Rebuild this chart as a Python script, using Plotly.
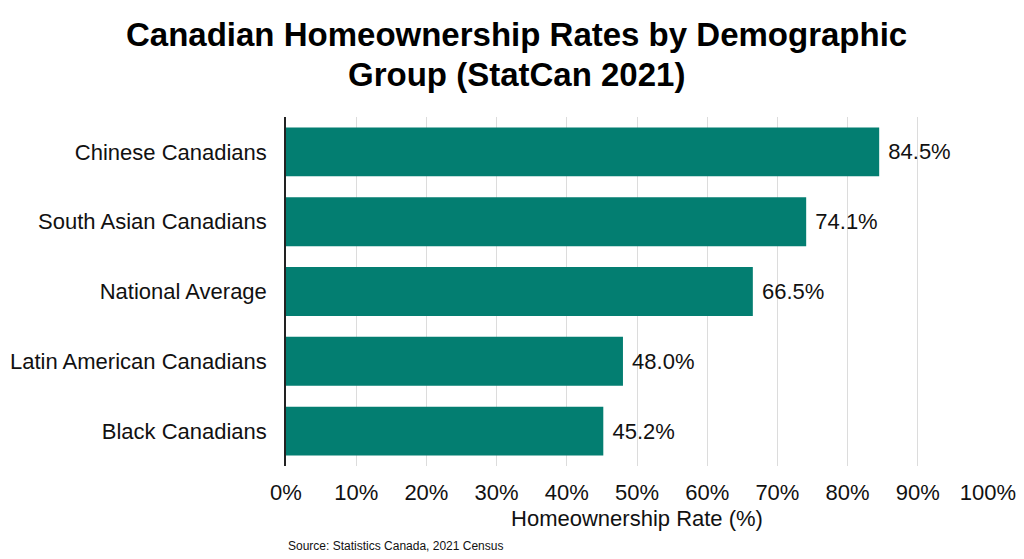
import plotly.graph_objects as go

categories = ["Chinese Canadians", "South Asian Canadians", "National Average",
              "Latin American Canadians", "Black Canadians"]
rates = [84.5, 74.1, 66.5, 48.0, 45.2]
tick_vals = [0, 10, 20, 30, 40, 50, 60, 70, 80, 90, 100]
tick_text = [f"{v}%" for v in tick_vals]
title_lines = ["Canadian Homeownership Rates by Demographic", "Group (StatCan 2021)"]

fig = go.Figure(go.Bar(
    x=rates, y=categories, orientation="h",
    marker=dict(color="#037E71", line=dict(width=0)),
    text=[f"\u00a0{v:.1f}%" for v in rates], textposition="outside",
    textfont=dict(size=22, color="#111111"), cliponaxis=False,
    width=0.7,
))

# page body has an 8px margin, so the figure is laid out 8px smaller
fig.update_layout(
    width=1016, height=551,
    paper_bgcolor="white", plot_bgcolor="white",
    font=dict(family="Liberation Sans, Arial, sans-serif", color="#111111"),
    margin=dict(l=278, r=36, t=109, b=93, autoexpand=False),
    showlegend=False,
    xaxis=dict(range=[0, 100], tickvals=tick_vals, ticktext=tick_text,
               showgrid=True, gridcolor="#dcdcdc", gridwidth=1,
               zeroline=False, ticks="", ticklabelstandoff=11,
               tickfont=dict(size=22), automargin=False,
               title=dict(text="Homeownership Rate (%)", font=dict(size=22), standoff=6)),
    yaxis=dict(categoryorder="array", categoryarray=categories[::-1],
               showline=True, linecolor="#222222", linewidth=1.5,
               ticks="", tickfont=dict(size=22), ticklabelstandoff=13, automargin=False),
    annotations=[
        dict(text=f"<b>{title_lines[0]}</b>", xref="paper", yref="paper",
             x=(508 - 278) / 702, y=1.0, xanchor="center", yanchor="middle",
             yshift=83, showarrow=False, font=dict(size=33, color="#000000")),
        dict(text=f"<b>{title_lines[1]}</b>", xref="paper", yref="paper",
             x=(508 - 278) / 702, y=1.0, xanchor="center", yanchor="middle",
             yshift=43, showarrow=False, font=dict(size=33, color="#000000")),
        dict(text="Source: Statistics Canada, 2021 Census", xref="paper", yref="paper",
             x=0, y=0, xanchor="left", yanchor="middle", yshift=-80, showarrow=False,
             font=dict(size=12, color="#111111")),
    ],
)

fig.write_html("out.html")
